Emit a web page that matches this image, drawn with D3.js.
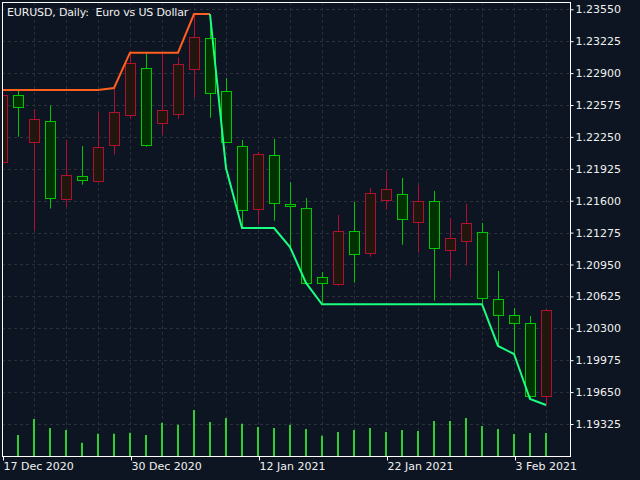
<!DOCTYPE html>
<html>
<head>
<meta charset="utf-8">
<script src="https://cdn.jsdelivr.net/npm/d3@7"></script>
<style>
  html, body { margin: 0; padding: 0; background: #0c1521; }
  svg { display: block; }
  text { font-family: "DejaVu Sans", sans-serif; font-size: 11px; fill: #f0f0f0; }
</style>
</head>
<body>
<svg id="chart" width="640" height="480"></svg>
<script>
var dates = ["17 Dec 2020","18 Dec 2020","21 Dec 2020","22 Dec 2020","23 Dec 2020","24 Dec 2020",
  "28 Dec 2020","29 Dec 2020","30 Dec 2020","31 Dec 2020","4 Jan 2021","5 Jan 2021","6 Jan 2021",
  "7 Jan 2021","8 Jan 2021","11 Jan 2021","12 Jan 2021","13 Jan 2021","14 Jan 2021","15 Jan 2021",
  "18 Jan 2021","19 Jan 2021","20 Jan 2021","21 Jan 2021","22 Jan 2021","25 Jan 2021","26 Jan 2021",
  "27 Jan 2021","28 Jan 2021","29 Jan 2021","1 Feb 2021","2 Feb 2021","3 Feb 2021","4 Feb 2021","5 Feb 2021"];

var open  = [1.21991,1.22677,1.22195,1.22409,1.21614,1.21849,1.21798,1.22164,1.22470,1.22949,1.22389,1.22480,
  1.22939,1.23255,1.22718,1.22157,1.21512,1.22063,1.21563,1.21523,1.20820,1.20748,1.21291,1.21064,1.21604,
  1.21665,1.21380,1.21594,1.21095,1.21189,1.21278,1.20596,1.20433,1.20351,1.19607];
var high  = [1.22707,1.22721,1.22534,1.22572,1.22218,1.22157,1.22504,1.22748,1.23105,1.23102,1.23102,1.23061,
  1.23502,1.23502,1.22850,1.22218,1.22096,1.22229,1.21791,1.21628,1.20874,1.21454,1.21587,1.21729,1.21903,
  1.21831,1.21760,1.21699,1.21424,1.21566,1.21373,1.20884,1.20507,1.20425,1.20497];
var low   = [1.21964,1.22252,1.21294,1.21519,1.21539,1.21763,1.21791,1.22069,1.22435,1.22150,1.22269,1.22432,
  1.22649,1.22446,1.22188,1.21327,1.21363,1.21396,1.21098,1.20751,1.20555,1.20734,1.20765,1.21030,1.21508,
  1.21152,1.21070,1.20581,1.20809,1.20938,1.20548,1.20120,1.20045,1.19580,1.19519];
var close = [1.22677,1.22552,1.22429,1.21625,1.21859,1.21808,1.22144,1.22501,1.23000,1.22162,1.22524,1.22990,
  1.23265,1.22694,1.22195,1.21500,1.22073,1.21574,1.21543,1.20759,1.20759,1.21291,1.21054,1.21675,1.21716,
  1.21411,1.21594,1.21115,1.21217,1.21370,1.20606,1.20433,1.20351,1.19607,1.20483];

// tick volume, thousands
var volume = [120,84,148,112,104,53,89,89,93,84,133,125,184,136,152,129,116,112,125,108,81,96,104,112,96,
  104,100,140,140,152,120,108,88,92,92];

var upperLine = [1.22728,1.22728,1.22728,1.22728,1.22728,1.22728,1.22728,1.22748,1.23108,1.23108,1.23108,1.23108,
  1.23502,1.23502,null,null,null,null,null,null,null,null,null,null,null,null,null,null,null,null,null,null,null,null,null];
var lowerLine = [null,null,null,null,null,null,null,null,null,null,null,null,null,
  1.23502,1.21933,1.21322,1.21322,1.21322,1.21128,1.20762,1.20545,1.20545,1.20545,1.20545,1.20545,1.20545,
  1.20545,1.20545,1.20545,1.20545,1.20545,1.20120,1.20038,1.19580,1.19519];

var priceTicks = [1.23550,1.23225,1.22900,1.22575,1.22250,1.21925,1.21600,1.21275,1.20950,1.20625,
  1.20300,1.19975,1.19650,1.19325];
var dateTicks = ["17 Dec 2020","30 Dec 2020","12 Jan 2021","22 Jan 2021","3 Feb 2021"];

var title = "EURUSD, Daily:  Euro vs US Dollar";

// plot frame (avoid "top", it is a window global)
var pLeft = 2, pRight = 570, pTop = 2, pBottom = 456;
var svg = d3.select("#chart");

var x = d3.scalePoint().domain(dates).range([2, 546]);
var y = d3.scaleLinear().domain([1.19325, 1.23550]).range([424, 9.3]);
var yVol = d3.scaleLinear().domain([0, 200]).range([pBottom, pBottom - 50]);

svg.append("rect").attr("width", 640).attr("height", 480).attr("fill", "#0c1521");

svg.append("clipPath").attr("id", "plot")
  .append("rect").attr("x", pLeft + 1).attr("y", pTop + 1)
  .attr("width", pRight - pLeft - 1).attr("height", pBottom - pTop - 1);

var plot = svg.append("g").attr("clip-path", "url(#plot)");

// grid
plot.selectAll(".hgrid").data(priceTicks).enter().append("line")
  .attr("x1", pLeft).attr("x2", pRight)
  .attr("y1", function(d) { return Math.round(y(d)) + 0.5; })
  .attr("y2", function(d) { return Math.round(y(d)) + 0.5; })
  .attr("stroke", "#2a2f38").attr("stroke-dasharray", "3,3");

plot.selectAll(".vgrid").data(dates.filter(function(d, i) { return i % 2 == 0; })).enter().append("line")
  .attr("x1", function(d) { return x(d) + 0.5; })
  .attr("x2", function(d) { return x(d) + 0.5; })
  .attr("y1", pTop).attr("y2", pBottom)
  .attr("stroke", "#2a2f38").attr("stroke-dasharray", "3,3");

// volumes
plot.selectAll(".vol").data(volume).enter().append("rect")
  .attr("x", function(d, i) { return x(dates[i]) - 1; })
  .attr("width", 2)
  .attr("y", function(d) { return yVol(d); })
  .attr("height", function(d) { return pBottom - yVol(d); })
  .attr("fill", "#32cd32");

// candles
var candles = dates.map(function(d, i) {
  return { date: d, o: open[i], h: high[i], l: low[i], c: close[i] };
});
function strokeOf(d) { return d.c > d.o ? "#b0102e" : "#00c800"; }
function fillOf(d) { return d.c > d.o ? "#22170f" : "#003300"; }

var g = plot.selectAll(".candle").data(candles).enter().append("g");
g.append("line")
  .attr("x1", function(d) { return x(d.date) + 0.5; })
  .attr("x2", function(d) { return x(d.date) + 0.5; })
  .attr("y1", function(d) { return y(d.h); })
  .attr("y2", function(d) { return y(d.l); })
  .attr("stroke", strokeOf);
g.append("rect")
  .attr("x", function(d) { return x(d.date) - 4.5; })
  .attr("width", 10)
  .attr("y", function(d) { return Math.round(y(Math.max(d.o, d.c))) + 0.5; })
  .attr("height", function(d) { return Math.max(1, Math.round(y(Math.min(d.o, d.c)) - y(Math.max(d.o, d.c)))); })
  .attr("fill", fillOf)
  .attr("stroke", strokeOf);

// trailing lines
var line = d3.line()
  .defined(function(d) { return d != null; })
  .x(function(d, i) { return x(dates[i]); })
  .y(function(d) { return y(d); });

plot.append("path").attr("d", line(upperLine))
  .attr("fill", "none").attr("stroke", "#ff5f1f").attr("stroke-width", 2);
plot.append("path").attr("d", line(lowerLine))
  .attr("fill", "none").attr("stroke", "#1aff80").attr("stroke-width", 2);

// frame
svg.append("rect")
  .attr("x", pLeft + 0.5).attr("y", pTop + 0.5)
  .attr("width", pRight - pLeft).attr("height", pBottom - pTop)
  .attr("fill", "none").attr("stroke", "#ffffff");

// price axis
var yAxis = svg.append("g").attr("transform", "translate(" + (pRight + 0.5) + ",0)")
  .call(d3.axisRight(y).tickValues(priceTicks).tickFormat(d3.format(".5f")).tickSize(3).tickPadding(2));
yAxis.select(".domain").remove();
yAxis.selectAll("line").attr("stroke", "#ffffff");
yAxis.selectAll("text").attr("fill", "#f0f0f0").style("font-family", "DejaVu Sans").style("font-size", "11px");

// date axis
var xAxis = svg.append("g").attr("transform", "translate(0," + (pBottom + 0.5) + ")")
  .call(d3.axisBottom(x).tickValues(dateTicks).tickSize(4).tickPadding(2));
xAxis.select(".domain").remove();
xAxis.selectAll(".tick line").attr("stroke", "#ffffff").attr("transform", "translate(1,0)");
xAxis.selectAll("text")
  .attr("text-anchor", "start").attr("x", 1).attr("y", 6).attr("dy", "0.71em")
  .attr("fill", "#f0f0f0").style("font-family", "DejaVu Sans").style("font-size", "11px");

svg.append("text").attr("x", 7).attr("y", 16)
  .style("white-space", "pre").style("letter-spacing", "-0.15px")
  .text(title);
</script>
</body>
</html>
